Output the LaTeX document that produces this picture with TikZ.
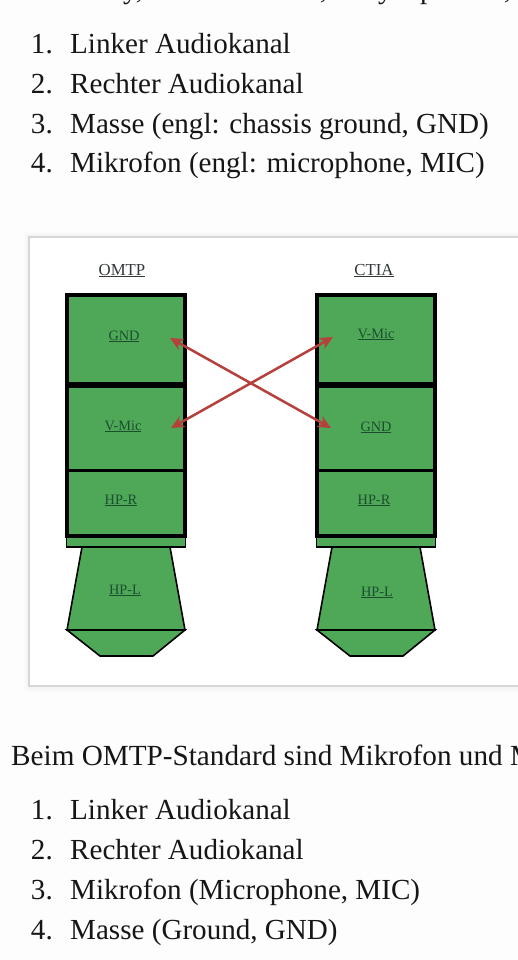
\documentclass[tikz,border=0pt]{standalone}
\usepackage{fontspec}
\setmainfont{Liberation Serif}
\usetikzlibrary{arrows.meta}
\definecolor{pagebg}{HTML}{FDFDFD}
\definecolor{plug}{HTML}{4FA858}
\definecolor{ink}{HTML}{161616}
\definecolor{labelink}{HTML}{1A4F2E}
\definecolor{headink}{HTML}{33383A}
\definecolor{swap}{HTML}{B5403C}
\definecolor{frameedge}{HTML}{D6D6D6}
\tikzset{
  body/.style={font=\fontsize{29.1}{34}\selectfont,text=ink,anchor=base west,inner sep=0pt},
  num/.style={font=\fontsize{29.1}{34}\selectfont,text=ink,anchor=base east,inner sep=0pt},
  head/.style={font=\fontsize{16.8}{20}\selectfont,text=headink,anchor=base,inner sep=0pt},
  tag/.style={font=\fontsize{14.3}{17}\selectfont,text=labelink,anchor=base,inner sep=0pt},
  thick seg/.style={draw=black,line width=4pt},
  thin seg/.style={draw=black,fill=plug,line width=1.6pt,line join=miter},
  swaparrow/.style={draw=swap,line width=2.5pt,{Stealth[length=13pt,width=12pt,inset=3.5pt]}-{Stealth[length=13pt,width=12pt,inset=3.5pt]}}
}
\newcommand{\plugshape}[1]{%
  \begin{scope}[xshift=#1pt]
    \fill[plug] (66,293) rectangle (186,536);
    \draw[thin seg] (66.5,536) rectangle (185.5,547);
    \draw[thin seg] (82,547) -- (170,547) -- (185,630) -- (67,630) -- cycle;
    \draw[thin seg] (67,630) -- (185,630) -- (153,656) -- (100,656) -- cycle;
    \draw[black,line width=6pt] (66,385) -- (186,385);
    \draw[black,line width=3pt] (66,470.5) -- (186,470.5);
    \draw[thick seg] (67,295) rectangle (185,535.5);
  \end{scope}}
\begin{document}
\begin{tikzpicture}[x=1pt,y=-1pt]
\useasboundingbox (0,0) rectangle (518,960);
\clip (0,0) rectangle (518,960);
\fill[pagebg] (0,0) rectangle (518,960);
% clipped line at the very top
\node[body] (c1) at (123,-1) {y,};
\node[body] (c2) at (320,-1) {,};
\node[body] (c3) at (378,-1) {y};
\node[body] (c4) at (420,-1) {p};
\node[body] (c5) at (504,-1) {,};
% image panel with soft shadow
\fill[black!2] (24,232) rectangle (530,692);
\fill[black!4] (26,234) rectangle (530,690);
\draw[frameedge,line width=1.2pt,fill=white] (29,237) rectangle (530,686);
% plugs
\plugshape{0}
\plugshape{250}
% headings and labels
\node[head] (omtp) at (122,275) {\underline{OMTP}};
\node[head] (ctia) at (374,275) {\underline{CTIA}};
\node[tag] (lgnd) at (124,340) {\underline{GND}};
\node[tag] (lmic) at (123,430) {\underline{V-Mic}};
\node[tag] (lr) at (121,504) {\underline{HP-R}};
\node[tag] (ll) at (125,594) {\underline{HP-L}};
\node[tag] (rmic) at (376,338) {\underline{V-Mic}};
\node[tag] (rgnd) at (376,431) {\underline{GND}};
\node[tag] (rr) at (374,504) {\underline{HP-R}};
\node[tag] (rl) at (377,596) {\underline{HP-L}};
% swap arrows
\coordinate (agndl) at (170,338);
\coordinate (agndr) at (331,428);
\coordinate (amicl) at (171,428);
\coordinate (amicr) at (333,337);
\draw[swaparrow] (agndl) -- (agndr);
\draw[swaparrow] (amicl) -- (amicr);
% upper list
\node[num] (n1) at (53,53.5) {1.};
\node[body] (t1) at (70,53.5) {Linker Audiokanal};
\node[num] (n2) at (53,93.5) {2.};
\node[body] (t2) at (70,93.5) {Rechter Audiokanal};
\node[num] (n3) at (53,133.5) {3.};
\node[body] (t3) at (70,133.5) {Masse (engl: chassis ground, GND)};
\node[num] (n4) at (53,173) {4.};
\node[body] (t4) at (70,173) {Mikrofon (engl: microphone, MIC)};
% sentence and lower list
\node[body,font=\fontsize{29.2}{34}\selectfont] (s) at (11,765) {Beim OMTP-Standard sind Mikrofon und M};
\node[num] (m1) at (53,819.5) {1.};
\node[body] (u1) at (70,819.5) {Linker Audiokanal};
\node[num] (m2) at (53,859.5) {2.};
\node[body] (u2) at (70,859.5) {Rechter Audiokanal};
\node[num] (m3) at (53,899.5) {3.};
\node[body] (u3) at (70,899.5) {Mikrofon (Microphone, MIC)};
\node[num] (m4) at (53,939.5) {4.};
\node[body] (u4) at (70,939.5) {Masse (Ground, GND)};
\end{tikzpicture}
\end{document}
